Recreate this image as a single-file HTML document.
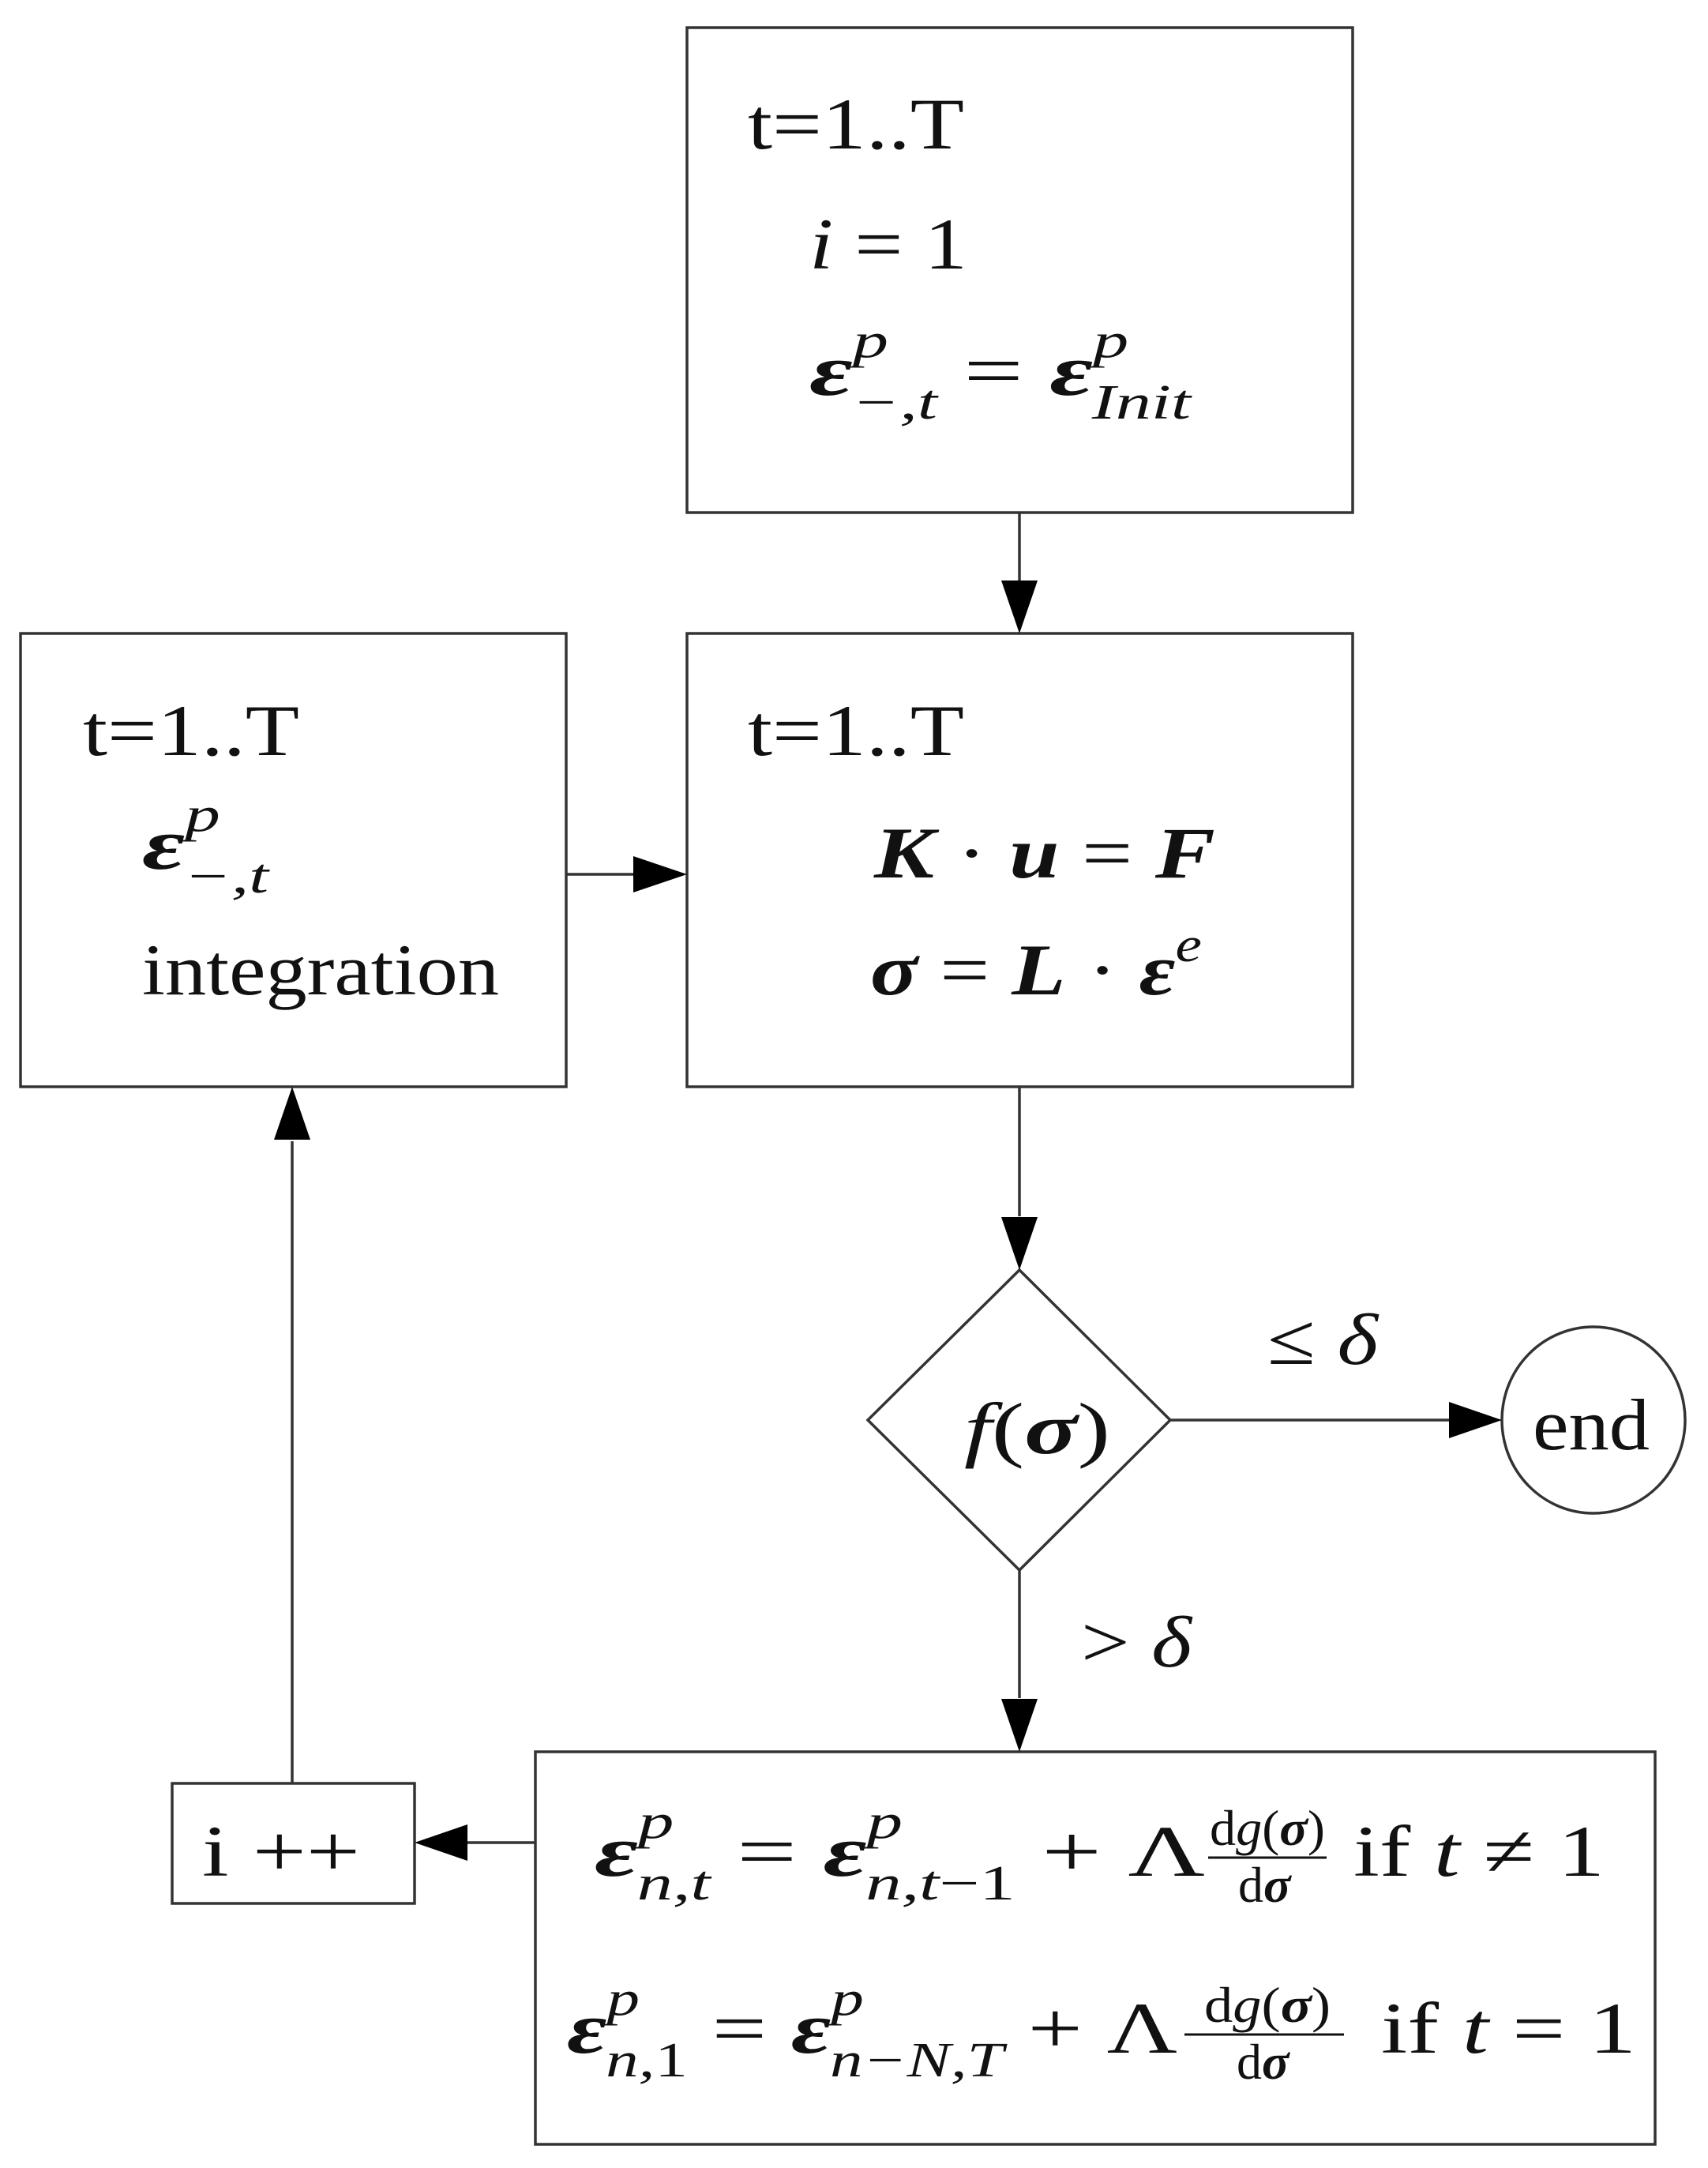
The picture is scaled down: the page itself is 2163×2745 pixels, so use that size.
<!DOCTYPE html>
<html><head><meta charset="utf-8"><style>
html,body{margin:0;padding:0;background:#fff}
svg{display:block}
text{font-family:"Liberation Serif",serif;fill:#111}
.it{font-style:italic}
.b{font-weight:bold;font-style:italic}
</style></head><body>
<svg width="2163" height="2745" viewBox="0 0 2163 2745" xmlns="http://www.w3.org/2000/svg">
<g fill="none" stroke="#333" stroke-width="3.5">
<rect x="870" y="35" width="843" height="614"/>
<rect x="870" y="802" width="843" height="574"/>
<rect x="26" y="802" width="691" height="574"/>
<polygon points="1291,1608 1482,1798 1291,1988 1099,1798"/>
<ellipse cx="2018" cy="1798" rx="116" ry="118"/>
<rect x="678" y="2218" width="1418" height="497"/>
<rect x="218" y="2258" width="307" height="152"/>
<line x1="1291" y1="649" x2="1291" y2="740"/>
<line x1="717" y1="1107" x2="810" y2="1107"/>
<line x1="1291" y1="1376" x2="1291" y2="1540"/>
<line x1="1482" y1="1798" x2="1840" y2="1798"/>
<line x1="1291" y1="1988" x2="1291" y2="2150"/>
<line x1="678" y1="2333" x2="590" y2="2333"/>
<line x1="370" y1="2258" x2="370" y2="1445"/>
</g>
<g fill="#000">
<polygon points="1268,735 1314,735 1291,802"/>
<polygon points="802,1084 802,1130 870,1107"/>
<polygon points="1268,1541 1314,1541 1291,1608"/>
<polygon points="1835,1775 1835,1821 1902,1798"/>
<polygon points="1268,2151 1314,2151 1291,2218"/>
<polygon points="592,2310 592,2356 525,2333"/>
<polygon points="347,1443 393,1443 370,1376"/>
</g>
<g font-size="92">
<text x="947" y="188" textLength="274" lengthAdjust="spacingAndGlyphs">t=1..T</text>
<text x="1025" y="340" textLength="200" lengthAdjust="spacingAndGlyphs"><tspan class="it">i</tspan> = 1</text>
<text x="1025" y="500" textLength="483" lengthAdjust="spacingAndGlyphs"><tspan class="b">ε</tspan><tspan class="it" font-size="62" dy="-48">p</tspan><tspan class="it" font-size="62" dx="-32" dy="78">−,t</tspan><tspan dy="-30"> = </tspan><tspan class="b">ε</tspan><tspan class="it" font-size="62" dy="-48">p</tspan><tspan class="it" font-size="62" dx="-32" dy="78">Init</tspan></text>

<text x="947" y="956" textLength="274" lengthAdjust="spacingAndGlyphs">t=1..T</text>
<text x="1107" y="1111" textLength="432" lengthAdjust="spacingAndGlyphs"><tspan class="b">K</tspan> · <tspan class="b">u</tspan> = <tspan class="b">F</tspan></text>
<text x="1102" y="1259" textLength="420" lengthAdjust="spacingAndGlyphs"><tspan class="b">σ</tspan> = <tspan class="b">L</tspan> · <tspan class="b">ε</tspan><tspan class="it" font-size="62" dy="-42">e</tspan></text>

<text x="105" y="956" textLength="274" lengthAdjust="spacingAndGlyphs">t=1..T</text>
<text x="180" y="1100" textLength="160" lengthAdjust="spacingAndGlyphs"><tspan class="b">ε</tspan><tspan class="it" font-size="62" dy="-48">p</tspan><tspan class="it" font-size="62" dx="-32" dy="78">−,t</tspan></text>
<text x="180" y="1259" textLength="452" lengthAdjust="spacingAndGlyphs">integration</text>

<text x="1221" y="1840" textLength="185" lengthAdjust="spacingAndGlyphs"><tspan class="it">f</tspan>(<tspan class="b">σ</tspan>)</text>
<text x="1941" y="1835" textLength="148" lengthAdjust="spacingAndGlyphs">end</text>
<text x="1605" y="1727" textLength="140" lengthAdjust="spacingAndGlyphs">≤ <tspan class="it">δ</tspan></text>
<text x="1369" y="2110" textLength="140" lengthAdjust="spacingAndGlyphs">&gt; <tspan class="it">δ</tspan></text>
<text x="256" y="2375" textLength="200" lengthAdjust="spacingAndGlyphs">i ++</text>

<text x="753" y="2375" textLength="773" lengthAdjust="spacingAndGlyphs"><tspan class="b">ε</tspan><tspan class="it" font-size="62" dy="-48">p</tspan><tspan class="it" font-size="62" dx="-32" dy="78">n,t</tspan><tspan dy="-30"> = </tspan><tspan class="b">ε</tspan><tspan class="it" font-size="62" dy="-48">p</tspan><tspan class="it" font-size="62" dx="-32" dy="78">n,t</tspan><tspan font-size="62">−1</tspan><tspan dy="-30"> + Λ</tspan></text>
<text x="1532" y="2336" font-size="64" textLength="146" lengthAdjust="spacingAndGlyphs">d<tspan class="it">g</tspan>(<tspan class="b">σ</tspan>)</text>
<line x1="1530" y1="2352" x2="1680" y2="2352" stroke="#111" stroke-width="3"/>
<text x="1568" y="2408" font-size="64">d<tspan class="b">σ</tspan></text>
<text x="1714" y="2375" textLength="318" lengthAdjust="spacingAndGlyphs">if  <tspan class="it">t</tspan> ≠ 1</text>

<text x="718" y="2599" textLength="773" lengthAdjust="spacingAndGlyphs"><tspan class="b">ε</tspan><tspan class="it" font-size="62" dy="-48">p</tspan><tspan class="it" font-size="62" dx="-32" dy="78">n,</tspan><tspan font-size="62">1</tspan><tspan dy="-30"> = </tspan><tspan class="b">ε</tspan><tspan class="it" font-size="62" dy="-48">p</tspan><tspan class="it" font-size="62" dx="-32" dy="78">n−N,T</tspan><tspan dy="-30"> + Λ</tspan></text>
<text x="1525" y="2560" font-size="64" textLength="160" lengthAdjust="spacingAndGlyphs">d<tspan class="it">g</tspan>(<tspan class="b">σ</tspan>)</text>
<line x1="1500" y1="2576" x2="1702" y2="2576" stroke="#111" stroke-width="3"/>
<text x="1566" y="2632" font-size="64">d<tspan class="b">σ</tspan></text>
<text x="1749" y="2599" textLength="323" lengthAdjust="spacingAndGlyphs">if  <tspan class="it">t</tspan> = 1</text>
</g>
</svg>
</body></html>
